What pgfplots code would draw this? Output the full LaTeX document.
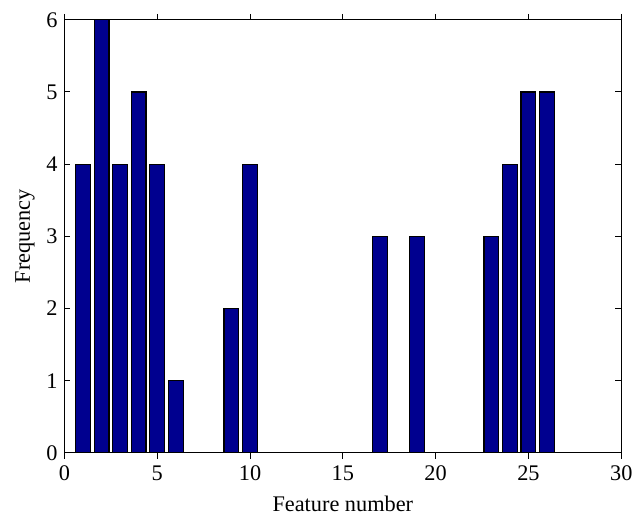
\documentclass[border=0pt]{standalone}
\usepackage{pgfplots}
\pgfplotsset{compat=1.18}
\usepackage{fontspec}
\setmainfont{Liberation Serif}
\definecolor{barblue}{RGB}{0,0,143}
\begin{document}
\begin{tikzpicture}
\begin{axis}[
  scale only axis, width=281bp, height=218.5bp,
  xmin=0, xmax=30, ymin=0, ymax=6,
  xtick={0,5,...,30}, ytick={0,1,...,6},
  tick align=inside, major tick length=3bp,
  axis line style={line width=0.5bp}, tick style={line width=0.5bp,black},
  font=\fontsize{11.3}{13}\selectfont,
  /pgf/number format/assume math mode=true,
  xlabel={Feature number}, ylabel={Frequency},
  xlabel style={yshift=-1bp}, ylabel style={yshift=-1bp},
  ybar, bar width=0.8,
]
\addplot[fill=barblue, draw=black, line width=0.6bp] coordinates {
(1,4) (2,6) (3,4) (4,5) (5,4) (6,1) (7,0) (8,0) (9,2) (10,4)
(11,0) (12,0) (13,0) (14,0) (15,0) (16,0) (17,3) (18,0) (19,3)
(20,0) (21,0) (22,0) (23,3) (24,4) (25,5) (26,5)};
\end{axis}
\path (current axis.south west) ++(-32.5bp,-35.5bp) coordinate (bl);
\path (current axis.north east) ++(6bp,10bp) coordinate (tr);
\useasboundingbox (bl) rectangle (tr);
\end{tikzpicture}
\end{document}
